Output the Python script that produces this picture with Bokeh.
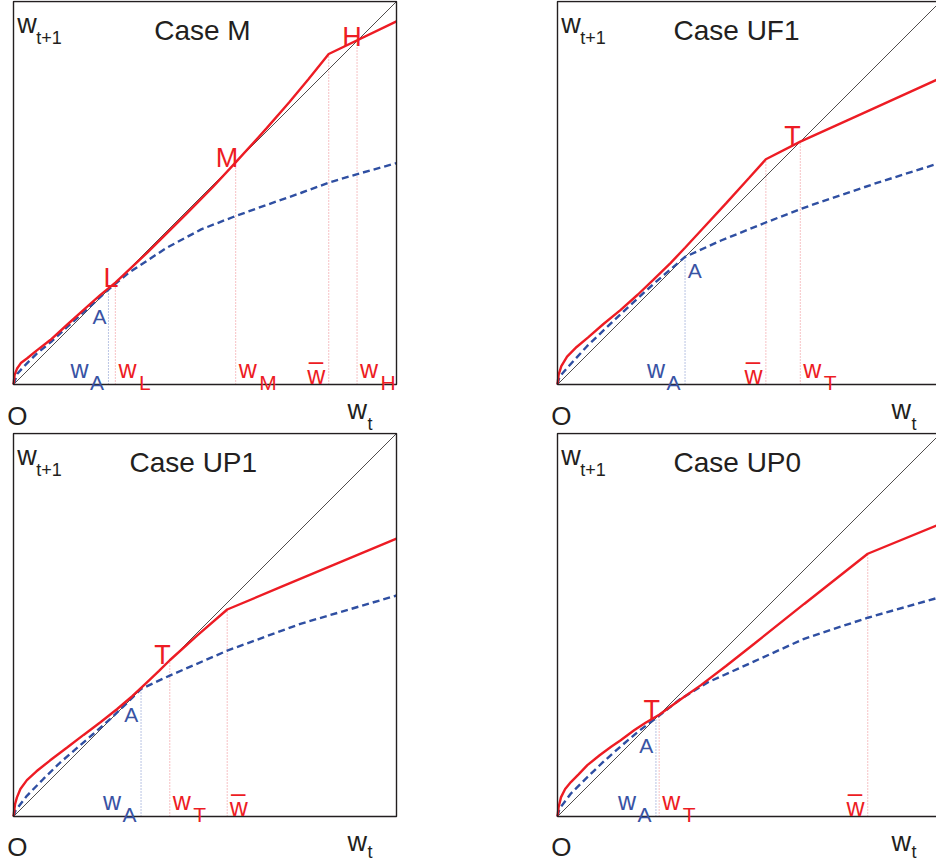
from bokeh.plotting import figure
from bokeh.layouts import column, row
from bokeh.models import Label, Range1d, BoxAnnotation, ColumnDataSource
from bokeh.embed import file_html
from bokeh.resources import INLINE

# ---------------- data ----------------
# 45-degree line w_{t+1} = w_t
diag = [0.0, 1.0]

# Case M
m_red_x = [0, 0.003, 0.009, 0.02, 0.035, 0.061, 0.096, 0.14, 0.183, 0.227, 0.266, 0.35, 0.45, 0.52, 0.58, 0.66, 0.72, 0.77, 0.823, 1.0]
m_red_y = [0, 0.025, 0.041, 0.057, 0.068, 0.089, 0.116, 0.156, 0.195, 0.234, 0.266, 0.345, 0.444, 0.515, 0.58, 0.668, 0.737, 0.797, 0.863, 0.948]
m_blue_x = [0, 0.01, 0.03, 0.06, 0.1, 0.15, 0.2, 0.248, 0.3, 0.4, 0.49, 0.575, 0.65, 0.75, 0.823, 0.9, 1.0]
m_blue_y = [0, 0.028, 0.05, 0.08, 0.113, 0.159, 0.204, 0.248, 0.291, 0.357, 0.405, 0.438, 0.465, 0.50, 0.527, 0.55, 0.578]
m_mark_names = ["A", "L", "M", "bar", "H"]
m_mark_x = [0.248, 0.266, 0.58, 0.823, 0.897]
m_mark_y = [0.248, 0.266, 0.58, 0.863, 0.897]

# Case UF1
uf_red_x = [0, 0.003, 0.01, 0.025, 0.05, 0.08, 0.12, 0.165, 0.21, 0.25, 0.295, 0.333, 0.38, 0.44, 0.5, 0.544, 0.634, 0.8, 1.0]
uf_red_y = [0, 0.026, 0.048, 0.073, 0.098, 0.123, 0.158, 0.195, 0.235, 0.273, 0.317, 0.357, 0.408, 0.473, 0.539, 0.588, 0.634, 0.709, 0.80]
uf_blue_x = [0, 0.005, 0.025, 0.077, 0.165, 0.25, 0.333, 0.427, 0.544, 0.634, 0.688, 0.836, 1.0]
uf_blue_y = [0, 0.02, 0.043, 0.1, 0.184, 0.262, 0.333, 0.376, 0.423, 0.458, 0.477, 0.527, 0.579]
uf_mark_names = ["A", "bar", "T"]
uf_mark_x = [0.333, 0.544, 0.634]
uf_mark_y = [0.333, 0.588, 0.634]

# Case UP1
up1_red_x = [0, 0.004, 0.009, 0.018, 0.035, 0.06, 0.095, 0.14, 0.183, 0.227, 0.27, 0.31, 0.345, 0.38, 0.408, 0.48, 0.558, 0.7, 0.85, 1.0]
up1_red_y = [0, 0.032, 0.05, 0.072, 0.095, 0.118, 0.146, 0.18, 0.213, 0.246, 0.28, 0.314, 0.347, 0.38, 0.408, 0.473, 0.5405, 0.6, 0.663, 0.7254]
up1_blue_x = [0, 0.005, 0.035, 0.078, 0.122, 0.166, 0.209, 0.253, 0.296, 0.333, 0.408, 0.558, 0.749, 1.0]
up1_blue_y = [0, 0.015, 0.054, 0.098, 0.141, 0.179, 0.216, 0.255, 0.296, 0.333, 0.368, 0.433, 0.503, 0.577]
up1_mark_names = ["A", "T", "bar"]
up1_mark_x = [0.333, 0.408, 0.558]
up1_mark_y = [0.333, 0.408, 0.5405]

# Case UP0
up0_red_x = [0, 0.003, 0.009, 0.02, 0.035, 0.055, 0.078, 0.11, 0.14, 0.165, 0.2, 0.23, 0.2655, 0.32, 0.3745, 0.44, 0.5137, 0.644, 0.81, 1.0]
up0_red_y = [0, 0.025, 0.05, 0.072, 0.09, 0.11, 0.134, 0.16, 0.182, 0.199, 0.225, 0.245, 0.2655, 0.305, 0.343, 0.393, 0.451, 0.555, 0.686, 0.764]
up0_blue_x = [0, 0.005, 0.035, 0.078, 0.12, 0.165, 0.21, 0.257, 0.32, 0.392, 0.5137, 0.644, 0.81, 1.0]
up0_blue_y = [0, 0.02, 0.06, 0.103, 0.143, 0.183, 0.221, 0.257, 0.306, 0.350, 0.405, 0.464, 0.519, 0.573]
up0_mark_names = ["A", "T", "bar"]
up0_mark_x = [0.257, 0.2655, 0.81]
up0_mark_y = [0.257, 0.2655, 0.686]

# ---------------- style ----------------
RED = "#ED1C24"
BLUE = "#2F4FA2"
BLUE_TXT = "#3953A4"
DOT_RED = "#EF8F94"
DOT_BLUE = "#7F91CC"
INK = "#231F20"
FONT = "Liberation Sans"
B = 383.0  # pixels per unit (box size)


def lab(p, text, x, y, dx, dy, size, color, align="left"):
    p.add_layout(Label(x=x, y=y, x_offset=dx, y_offset=dy, text=text,
                       text_font=FONT, text_font_size=f"{size}px",
                       text_color=color, text_align=align,
                       text_baseline="alphabetic"))


def panel(title, title_dx, red_x, red_y, blue_x, blue_y, names, mx, my,
          tick_side, pt_off, left_col, top_row):
    pad_l = 8
    pad_r = 2 if left_col else -4
    pad_t = 1
    pad_b = 48 if top_row else 45
    fw = int(B + pad_l + pad_r)
    fh = int(B + pad_t + pad_b)
    p = figure(
        frame_width=fw, frame_height=fh,
        x_range=Range1d(-pad_l / B, 1 + pad_r / B),
        y_range=Range1d(-pad_b / B, 1 + pad_t / B),
        x_axis_location=None, y_axis_location=None,
        output_backend="svg", toolbar_location=None,
        min_border_left=5 if left_col else 11,
        min_border_right=140 if left_col else 0,
        min_border_top=0,
        min_border_bottom=0,
    )
    p.grid.visible = False
    p.outline_line_color = None

    # box around the diagram
    p.add_layout(BoxAnnotation(left=0, right=1, bottom=0, top=1,
                               fill_color=None, fill_alpha=0,
                               line_color=INK, line_alpha=1.0,
                               line_width=1.4))

    # dotted guide lines from the axis up to each point
    cols = [DOT_BLUE if n == "A" else DOT_RED for n in names]
    src = ColumnDataSource(dict(x=mx, y=my, y0=[0] * len(mx), c=cols))
    p.segment(x0="x", y0="y0", x1="x", y1="y", source=src, line_color="c",
              line_width=1.1, line_dash="1 2")

    p.line(diag, diag, line_color=INK, line_width=0.8)
    p.line(blue_x, blue_y, line_color=BLUE, line_width=2.4, line_dash="7 4")
    p.line(red_x, red_y, line_color=RED, line_width=2.4)

    # axis-corner texts
    top_dy = -22 if top_row else -22.7
    lab(p, "w", 0, 1, 3.7, top_dy, 27, INK)
    lab(p, "t+1", 0, 1, 22.7, -36, 18, INK)
    lab(p, title, 0, 1, title_dx, -29, 28, INK)
    lab(p, "O", 0, 0, -6.3, -31 if top_row else -30.5, 26, INK)
    lab(p, "w", 1, 0, -49, -25, 27, INK)
    lab(p, "t", 1, 0, -29, -39 if top_row else -35.5, 18, INK)

    # labels under the guide lines and at the points
    for n, x, y in zip(names, mx, my):
        col = BLUE_TXT if n == "A" else RED
        side = tick_side.get(n, "right")
        if n == "bar":
            if side == "right":
                lab(p, "w\u0305", x, 0, 2.6, 9.5, 25, RED)
            else:
                lab(p, "w\u0305", x, 0, -3.3, 9.5, 25, RED, "right")
            continue
        if side == "right":
            lab(p, "w", x, 0, 3, 16, 25, col)
            lab(p, n, x, 0, 23.5, 2, 21, col)
        else:
            lab(p, "w", x, 0, -20, 16, 25, col, "right")
            lab(p, n, x, 0, -4.5, 2, 21, col, "right")
        dx, dy = pt_off[n]
        lab(p, n, x, y, dx, dy, 21 if n == "A" else 27, col)
    return p


p1 = panel("Case M", 140.7, m_red_x, m_red_y, m_blue_x, m_blue_y,
           m_mark_names, m_mark_x, m_mark_y,
           {"A": "left", "bar": "left"},
           {"A": (-16, -26.5), "L": (-12, 4.6), "M": (-20, 4.6), "H": (-14.7, 4.3)},
           True, True)
p2 = panel("Case UF1", 116, uf_red_x, uf_red_y, uf_blue_x, uf_blue_y,
           uf_mark_names, uf_mark_x, uf_mark_y,
           {"A": "left", "bar": "left"},
           {"A": (2.6, -14), "T": (-16, 6)},
           False, True)
p3 = panel("Case UP1", 116, up1_red_x, up1_red_y, up1_blue_x, up1_blue_y,
           up1_mark_names, up1_mark_x, up1_mark_y,
           {"A": "left", "bar": "right"},
           {"A": (-16.7, -26), "T": (-15.4, 5.7)},
           True, False)
p4 = panel("Case UP0", 116, up0_red_x, up0_red_y, up0_blue_x, up0_blue_y,
           up0_mark_names, up0_mark_x, up0_mark_y,
           {"A": "left", "bar": "left"},
           {"A": (-16.7, -27), "T": (-15.6, 5)},
           False, False)

layout = column(row(p1, p2), row(p3, p4))
open("out.html", "w").write(file_html(layout, INLINE))
